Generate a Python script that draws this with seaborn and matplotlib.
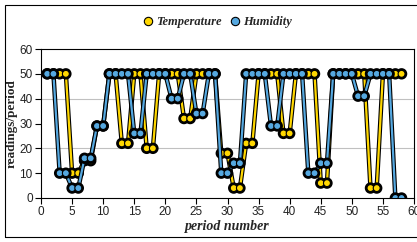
import numpy as np
import pandas as pd
import seaborn as sns
import matplotlib.pyplot as plt
import matplotlib.patheffects as pe
from matplotlib.lines import Line2D
from matplotlib.patches import Rectangle

sns.set_style("white")
plt.rcParams['font.family'] = ['Liberation Sans', 'DejaVu Sans']

periods = list(range(1, 59))
temperature = [50, 50, 50, 50, 10, 10, 15, 15, 29, 29,
               50, 50, 22, 22, 50, 50, 20, 20, 50, 50,
               50, 50, 32, 32, 50, 50, 50, 50, 18, 18,
               4, 4, 22, 22, 50, 50, 50, 50, 26, 26,
               50, 50, 50, 50, 6, 6, 50, 50, 50, 50,
               50, 50, 4, 4, 50, 50, 50, 50]
humidity = [50, 50, 10, 10, 4, 4, 16, 16, 29, 29,
            50, 50, 50, 50, 26, 26, 50, 50, 50, 50,
            40, 40, 50, 50, 34, 34, 50, 50, 10, 10,
            14, 14, 50, 50, 50, 50, 29, 29, 50, 50,
            50, 50, 10, 10, 14, 14, 50, 50, 50, 50,
            41, 41, 50, 50, 50, 50, 0, 0]
series_names = ["Temperature", "Humidity"]
colors = ["#FFD700", "#55A8E0"]

df = pd.DataFrame({
    "period": periods * 2,
    "value": temperature + humidity,
    "series": [series_names[0]] * len(periods) + [series_names[1]] * len(periods),
})

fig = plt.figure(figsize=(4.17, 2.42), dpi=100)
ax = fig.add_axes([41 / 417, 1 - 198 / 242, (414 - 41) / 417, (198 - 49) / 242])

outline = [pe.Stroke(linewidth=3.2, foreground="black"), pe.Normal()]
for name, col in zip(series_names, colors):
    sub = df[df["series"] == name]
    sns.lineplot(data=sub, x="period", y="value", ax=ax, color=col,
                 linewidth=1.6, marker="o", markersize=5,
                 markeredgecolor="black", markeredgewidth=0.8,
                 path_effects=outline, legend=False, zorder=3)

ax.set_xlim(0, 60)
ax.set_ylim(0, 60)
ax.set_xticks(np.arange(0, 61, 5))
ax.set_yticks(np.arange(0, 61, 10))
for yv in [20, 40]:
    ax.axhline(yv, color="#c0c0c0", linewidth=0.8, zorder=1)
ax.tick_params(axis="both", direction="out", length=4, width=0.8,
               labelsize=8.5, labelcolor="#222222", color="black", pad=2)
ax.tick_params(axis="x", bottom=True)
ax.tick_params(axis="y", left=True)
for sp in ax.spines.values():
    sp.set_color("black")
    sp.set_linewidth(0.8)

ax.set_xlabel("period number", family=["Liberation Serif"], fontsize=10,
              fontweight="bold", style="italic", labelpad=1)
ax.set_ylabel("readings/period", family=["Liberation Serif"], fontsize=9.5,
              fontweight="bold", labelpad=1)

handles = [Line2D([], [], linestyle="none", marker="o", markersize=6,
                  markerfacecolor=c, markeredgecolor="black", markeredgewidth=0.8)
           for c in colors]
fig.legend(handles, series_names, loc="center", bbox_to_anchor=(0.52, 1 - 22 / 242),
           ncol=2, frameon=False, handletextpad=0.1, columnspacing=0.6,
           handlelength=1.0,
           prop={"family": "Liberation Serif", "weight": "bold", "style": "italic", "size": 9})

fig.patches.append(Rectangle((5 / 417, 1 - 237 / 242), 1.0, (237 - 5) / 242,
                             transform=fig.transFigure, fill=False,
                             edgecolor="black", linewidth=0.8))

fig.savefig("out.png", dpi=100)
